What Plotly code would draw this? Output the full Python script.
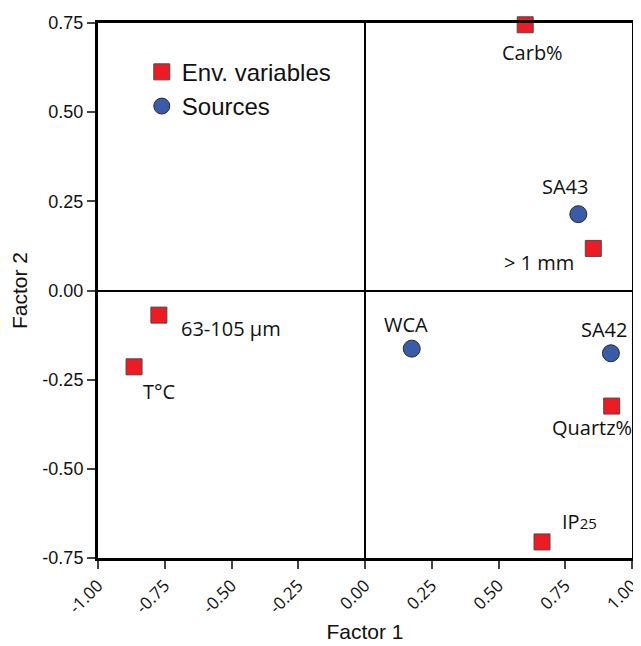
import plotly.graph_objects as go

# Scores of variables and sources on the two factors
env_names = ["Carb%", "> 1 mm", "Quartz%", "IP25", "63-105 µm", "T°C"]
env_f1 = [0.60, 0.855, 0.924, 0.663, -0.772, -0.865]
env_f2 = [0.745, 0.118, -0.324, -0.705, -0.069, -0.214]

src_names = ["SA43", "WCA", "SA42"]
src_f1 = [0.799, 0.175, 0.921]
src_f2 = [0.214, -0.163, -0.176]

x_ticks = [-1.0, -0.75, -0.5, -0.25, 0.0, 0.25, 0.5, 0.75, 1.0]
y_ticks = [-0.75, -0.5, -0.25, 0.0, 0.25, 0.5, 0.75]

label_font = "Open Sans, Lato, sans-serif"
axis_font = "Liberation Sans, Arial, sans-serif"

fig = go.Figure()

fig.add_trace(go.Scatter(
    x=env_f1, y=env_f2, mode="markers", name="Env. variables",
    marker=dict(symbol="square", size=16, color="#ED1C24",
                line=dict(color="#4a4a4a", width=1)),
    cliponaxis=False,
))
fig.add_trace(go.Scatter(
    x=src_f1, y=src_f2, mode="markers", name="Sources",
    marker=dict(symbol="circle", size=17, color="#3A5BA8",
                line=dict(color="#2a2a2a", width=1)),
    cliponaxis=False,
))

# label offsets (pixels) relative to each marker
env_offsets = {
    "Carb%": (7, -28, "center"),
    "> 1 mm": (-17, -14, "right"),
    "Quartz%": (22, -21, "right"),
    "IP25": (18, 20, "left"),
    "63-105 µm": (20, -13, "left"),
    "T°C": (7, -25, "left"),
}
src_offsets = {
    "SA43": (-13, 28, "center"),
    "WCA": (-6, 24, "center"),
    "SA42": (-7, 24, "center"),
}

for name, x, y in zip(env_names, env_f1, env_f2):
    dx, dy, anchor = env_offsets[name]
    txt = name
    if name == "IP25":
        txt = "IP<span style='font-size:15px'>25</span>"
    fig.add_annotation(x=x, y=y, text=txt, showarrow=False, xanchor=anchor,
                       xshift=dx, yshift=dy,
                       font=dict(family=label_font, size=20, color="#111"))

for name, x, y in zip(src_names, src_f1, src_f2):
    dx, dy, anchor = src_offsets[name]
    fig.add_annotation(x=x, y=y, text=name, showarrow=False, xanchor=anchor,
                       xshift=dx, yshift=dy,
                       font=dict(family=label_font, size=20, color="#111"))

# the page body adds 8px around the figure, so size it to fit the window
fig.update_layout(
    width=633, height=638,
    margin=dict(l=90, r=9, t=15, b=88),
    plot_bgcolor="white", paper_bgcolor="white",
    font=dict(family=axis_font, color="#111"),
    legend=dict(x=0.082, y=0.95, xanchor="left", yanchor="top",
                bgcolor="rgba(0,0,0,0)", font=dict(size=24)),
    xaxis=dict(
        range=[-1, 1], tickvals=x_ticks,
        ticktext=[f"{v:.2f}" for v in x_ticks],
        tickangle=-45, ticks="outside", ticklen=8, tickwidth=2,
        tickfont=dict(family=label_font, size=17),
        ticklabeloverflow="allow",
        showgrid=False, showline=True, linecolor="black", linewidth=3,
        mirror=True, zeroline=True, zerolinecolor="black", zerolinewidth=1.5,
        automargin=False,
        title=dict(text="Factor 1", font=dict(size=21), standoff=8),
    ),
    yaxis=dict(
        range=[-0.75, 0.75], tickvals=y_ticks,
        ticktext=[f"{v:.2f}" for v in y_ticks],
        ticks="outside", ticklen=8, tickwidth=2,
        tickfont=dict(size=18),
        ticklabeloverflow="allow",
        showgrid=False, showline=True, linecolor="black", linewidth=3,
        mirror=True, zeroline=True, zerolinecolor="black", zerolinewidth=1.5,
        automargin=False,
        title=dict(text="Factor 2", font=dict(size=21), standoff=12),
    ),
)

fig.write_html("out.html")
